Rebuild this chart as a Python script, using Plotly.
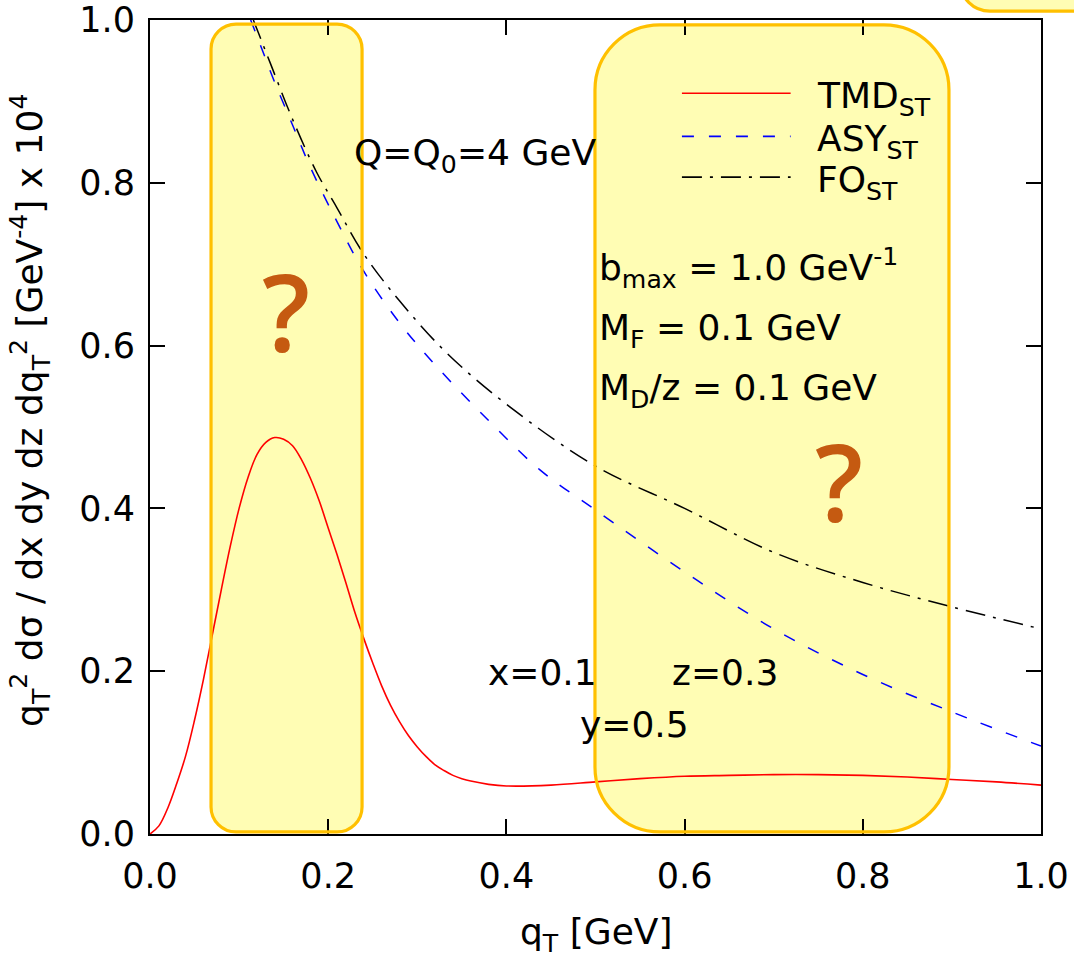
import plotly.graph_objects as go

# ---------------- data ----------------
qt_tmd = [0.00, 0.01, 0.02, 0.03, 0.04, 0.05, 0.06, 0.07, 0.08, 0.09, 0.10, 0.11, 0.12, 0.13,
          0.14, 0.15, 0.16, 0.17, 0.18, 0.19, 0.20, 0.21, 0.22, 0.23, 0.24, 0.25, 0.26, 0.27,
          0.28, 0.29, 0.30, 0.31, 0.32, 0.33, 0.34, 0.35, 0.36, 0.38, 0.40, 0.45, 0.50, 0.55,
          0.60, 0.65, 0.70, 0.75, 0.80, 0.85, 0.90, 0.95, 1.00]
tmd_st = [0.000, 0.010, 0.032, 0.062, 0.096, 0.140, 0.190, 0.245, 0.300, 0.353, 0.400, 0.438,
          0.466, 0.481, 0.487, 0.485, 0.477, 0.460, 0.437, 0.409, 0.376, 0.343, 0.308, 0.272,
          0.240, 0.210, 0.182, 0.158, 0.138, 0.121, 0.107, 0.095, 0.085, 0.078, 0.072, 0.068,
          0.065, 0.061, 0.059, 0.060, 0.064, 0.068, 0.071, 0.072, 0.073, 0.073, 0.072, 0.070,
          0.067, 0.064, 0.060]

qt_asy = [0.113, 0.125, 0.139, 0.160, 0.180, 0.210, 0.239, 0.280, 0.322, 0.380, 0.438, 0.500,
          0.600, 0.700, 0.800, 0.900, 1.000]
asy_st = [1.000, 0.966, 0.926, 0.871, 0.819, 0.752, 0.693, 0.628, 0.574, 0.508, 0.447, 0.398,
          0.322, 0.252, 0.196, 0.150, 0.108]

qt_fo = [0.116, 0.135, 0.160, 0.187, 0.210, 0.239, 0.280, 0.333, 0.400, 0.500, 0.600, 0.700,
         0.800, 0.900, 1.000]
fo_st = [1.000, 0.947, 0.878, 0.813, 0.769, 0.714, 0.655, 0.591, 0.528, 0.452, 0.400, 0.346,
         0.309, 0.279, 0.252]

x_ticks = [0.0, 0.2, 0.4, 0.6, 0.8, 1.0]
y_ticks = [0.0, 0.2, 0.4, 0.6, 0.8, 1.0]

series_names = ["TMD<sub>ST</sub>", "ASY<sub>ST</sub>", "FO<sub>ST</sub>"]

# ---------------- layout constants ----------------
W, H = 1074, 954
ML, MR, MT, MB = 150, 33, 20, 120
PW, PH = W - ML - MR, H - MT - MB
FONT = "DejaVu Sans"
FS = 36
RED, BLUE, BLACK = "#ff0000", "#0000ff", "#000000"
BOX_FILL, BOX_LINE = "#FFFDB4", "#FFC000"
QCOL = "#C55A11"
DASH_ASY = "12px,15px"
DASH_FO = "20px,8px,3px,8px"

fig = go.Figure()
fig.add_trace(go.Scatter(x=qt_tmd, y=tmd_st, mode="lines", name=series_names[0],
                         line=dict(color=RED, width=1.6), line_shape="spline"))
fig.add_trace(go.Scatter(x=qt_asy, y=asy_st, mode="lines", name=series_names[1],
                         line=dict(color=BLUE, width=1.5, dash=DASH_ASY), line_shape="spline"))
fig.add_trace(go.Scatter(x=qt_fo, y=fo_st, mode="lines", name=series_names[2],
                         line=dict(color=BLACK, width=1.5, dash=DASH_FO), line_shape="spline"))


def rounded_path(x0, x1, y0, y1, r, sx, sy):
    rx, ry = r / sx, r / sy
    k = 0.5523
    p = [f"M {x0 + rx},{y1}",
         f"L {x1 - rx},{y1}",
         f"C {x1 - rx + k * rx},{y1} {x1},{y1 - ry + k * ry} {x1},{y1 - ry}",
         f"L {x1},{y0 + ry}",
         f"C {x1},{y0 + ry - k * ry} {x1 - rx + k * rx},{y0} {x1 - rx},{y0}",
         f"L {x0 + rx},{y0}",
         f"C {x0 + rx - k * rx},{y0} {x0},{y0 + ry - k * ry} {x0},{y0 + ry}",
         f"L {x0},{y1 - ry}",
         f"C {x0},{y1 - ry + k * ry} {x0 + rx - k * rx},{y1} {x0 + rx},{y1}",
         "Z"]
    return " ".join(p)


shapes = []
boxes = [  # (x0, x1, y0, y1, radius px) in data units
    (0.0685, 0.238, 0.0025, 0.995, 25),
    (0.4994, 0.8967, 0.0025, 0.994, 65),
]
for (x0, x1, y0, y1, r) in boxes:
    path = rounded_path(x0, x1, y0, y1, r, PW, PH)
    shapes.append(dict(type="path", path=path, xref="x", yref="y", layer="below",
                       fillcolor=BOX_FILL, line=dict(width=0)))
    shapes.append(dict(type="path", path=path, xref="x", yref="y", layer="above",
                       fillcolor="rgba(0,0,0,0)", line=dict(color=BOX_LINE, width=3.2)))
# partial box at the top right (outside the plot)
path3 = rounded_path(0.909, 1.10, 1.011, 1.10, 30, PW, PH)
shapes.append(dict(type="path", path=path3, xref="paper", yref="paper", layer="above",
                   fillcolor=BOX_FILL, line=dict(color=BOX_LINE, width=3.2)))

# manual legend
leg_y = [0.910, 0.857, 0.807]
leg_style = [(RED, "solid"), (BLUE, DASH_ASY), (BLACK, DASH_FO)]
for yy, (c, d) in zip(leg_y, leg_style):
    shapes.append(dict(type="line", xref="paper", yref="paper", x0=0.597, x1=0.719, y0=yy, y1=yy,
                       line=dict(color=c, width=1.6, dash=d)))

annotations = []
for yy, name in zip(leg_y, series_names):
    annotations.append(dict(text=name, xref="paper", yref="paper", x=0.746, y=yy,
                            xanchor="left", yanchor="middle", showarrow=False, yshift=-5,
                            font=dict(family=FONT, size=FS, color="black")))

texts = [
    ("Q=Q<sub>0</sub>=4 GeV", 0.227, 0.834),
    ("b<sub>max</sub> = 1.0 GeV<sup>-1</sup>", 0.502, 0.695),
    ("M<sub>F</sub> = 0.1 GeV", 0.502, 0.619),
    ("M<sub>D</sub>/z = 0.1 GeV", 0.502, 0.545),
    ("x=0.1", 0.377, 0.198),
    ("z=0.3", 0.584, 0.198),
    ("y=0.5", 0.480, 0.134),
]
for t, xx, yy in texts:
    annotations.append(dict(text=t, xref="x", yref="y", x=xx, y=yy, xanchor="left",
                            yanchor="middle", showarrow=False,
                            font=dict(family=FONT, size=FS, color="black")))

for xx, yy in [(0.153, 0.642), (0.773, 0.434)]:
    annotations.append(dict(text="?", xref="x", yref="y", x=xx, y=yy, xanchor="center",
                            yanchor="middle", showarrow=False,
                            font=dict(family="Open Sans", size=106, color=QCOL, weight=600)))

# axis titles
annotations.append(dict(text="q<sub>T</sub> [GeV]", xref="paper", yref="paper", x=0.5, y=-0.124,
                        xanchor="center", yanchor="middle", showarrow=False,
                        font=dict(family=FONT, size=FS, color="black")))
annotations.append(dict(text="q<sub>T</sub><sup>2</sup> dσ / dx dy dz dq<sub>T</sub><sup>2</sup> [GeV<sup>-4</sup>] x 10<sup>4</sup>",
                        xref="paper", yref="paper", x=-0.1347, y=0.521, textangle=-90,
                        xanchor="center", yanchor="middle", showarrow=False,
                        font=dict(family=FONT, size=FS, color="black")))

axis_common = dict(range=[0, 1], showgrid=False, zeroline=False, showline=True, linecolor="black",
                   linewidth=2, mirror="ticks", ticks="inside", ticklen=15, tickwidth=1.5,
                   tickcolor="black", tickformat=".1f", ticklabeloverflow="allow",
                   tickfont=dict(family=FONT, size=FS - 1, color="black"))

fig.update_layout(
    width=W, height=H,
    margin=dict(l=ML, r=MR, t=MT, b=MB, autoexpand=False),
    paper_bgcolor="white", plot_bgcolor="white",
    showlegend=False,
    xaxis=dict(axis_common, tickvals=x_ticks, ticklabelstandoff=10),
    yaxis=dict(axis_common, tickvals=y_ticks, ticklabelstandoff=6),
    shapes=shapes,
    annotations=annotations,
)

# remove the default 8px page margin so the figure fills the window exactly
fig.write_html("out.html",
               config={"displayModeBar": False},
               post_script="document.body.style.margin='0';document.body.style.overflow='hidden';")
